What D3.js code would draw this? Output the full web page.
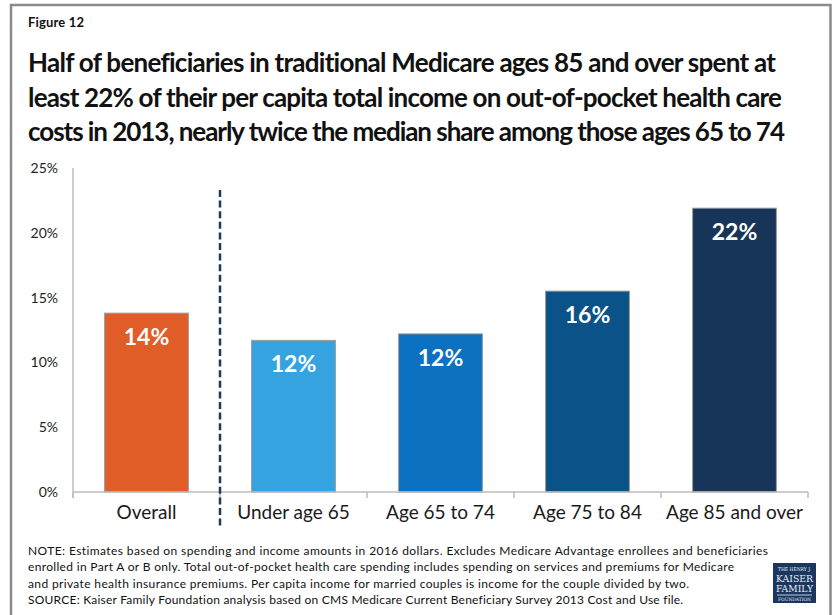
<!DOCTYPE html>
<html>
<head>
<meta charset="utf-8">
<script src="https://cdn.jsdelivr.net/npm/d3@7"></script>
<style>
  html, body { margin: 0; padding: 0; background: #fff; }
  svg { display: block; }
</style>
</head>
<body>
<svg id="chart" width="833" height="615"></svg>
<script>
// Median share of per capita income spent out of pocket on health care, 2013
const categories = ["Overall", "Under age 65", "Age 65 to 74", "Age 75 to 84", "Age 85 and over"];
const values = [13.8, 11.7, 12.2, 15.5, 21.9];
const valueLabels = ["14%", "12%", "12%", "16%", "22%"];
const barColors = ["#e05d27", "#35a3e0", "#0b71c0", "#0a5288", "#163558"];
const yTicks = [0, 5, 10, 15, 20, 25];

const figureLabel = "Figure 12";
const titleLines = [
  "Half of beneficiaries in traditional Medicare ages 85 and over spent at",
  "least 22% of their per capita total income on out-of-pocket health care",
  "costs in 2013, nearly twice the median share among those ages 65 to 74"
];
const noteLines = [
  "NOTE: Estimates based on spending and income amounts in 2016 dollars. Excludes Medicare Advantage enrollees and beneficiaries",
  "enrolled in Part A or B only. Total out-of-pocket health care spending includes spending on services and premiums for Medicare",
  "and private health insurance premiums. Per capita income for married couples is income for the couple divided by two.",
  "SOURCE: Kaiser Family Foundation analysis based on CMS Medicare Current Beneficiary Survey 2013 Cost and Use file."
];

const svg = d3.select("#chart");
const font = "Lato, 'Open Sans', sans-serif";

// Stretch or tighten a line through letter-spacing so it spans the given width
function fitWidth(sel, widthOf) {
  sel.each(function (d, i) {
    const node = this;
    const natural = node.getComputedTextLength();
    const n = Math.max(1, node.textContent.length - 1);
    const ls = (widthOf(d, i) - natural) / n;
    d3.select(node).attr("letter-spacing", ls.toFixed(3));
  });
}

// Frame around the figure
svg.append("path")
  .attr("d", "M11,616 V5 H830.5 V616")
  .attr("fill", "none")
  .attr("stroke", "#8a8a8a")
  .attr("stroke-width", 2.5);

// Heading
svg.append("text")
  .attr("x", 28).attr("y", 27)
  .attr("font-family", font).attr("font-weight", 700)
  .attr("font-size", 13).attr("fill", "#111")
  .text(figureLabel)
  .call(fitWidth, () => 56);

const titleWidths = [748, 754, 757];
svg.append("g").selectAll("text")
  .data(titleLines)
  .join("text")
  .attr("x", 28)
  .attr("y", (d, i) => 72 + i * 34.5)
  .attr("font-family", font).attr("font-weight", 700)
  .attr("font-size", 26).attr("fill", "#111")
  .text(d => d)
  .call(fitWidth, (d, i) => titleWidths[i]);

// Scales
const x = d3.scaleBand()
  .domain(categories)
  .range([73, 808])
  .paddingInner(0.43)
  .paddingOuter(0.215);

const y = d3.scaleLinear().domain([0, 25]).range([492, 168]);

const axisColor = "#bdbdbd";

// Y axis
const yAxis = svg.append("g")
  .attr("transform", "translate(73,0)")
  .call(d3.axisLeft(y).tickValues(yTicks).tickFormat(d => d + "%").tickSize(0).tickPadding(15));
yAxis.select(".domain").remove();
yAxis.selectAll("text")
  .attr("font-family", font).attr("font-size", 14).attr("fill", "#222");
svg.append("line")
  .attr("x1", 73).attr("x2", 73)
  .attr("y1", y(25)).attr("y2", y(0) + 6)
  .attr("stroke", axisColor).attr("stroke-width", 1.5);

// Bars
svg.append("g").selectAll("rect")
  .data(values)
  .join("rect")
  .attr("x", (d, i) => x(categories[i]))
  .attr("width", x.bandwidth())
  .attr("y", d => y(d))
  .attr("height", d => y(0) - y(d))
  .attr("fill", (d, i) => barColors[i])
  .attr("stroke", "#9a9a9a")
  .attr("stroke-width", 1);

// Baseline and category boundary ticks
svg.append("line")
  .attr("x1", 73).attr("x2", 808)
  .attr("y1", y(0)).attr("y2", y(0))
  .attr("stroke", axisColor).attr("stroke-width", 1.5);
const step = x.step();
svg.append("g").selectAll("line")
  .data(d3.range(categories.length + 1))
  .join("line")
  .attr("x1", i => 73 + i * step).attr("x2", i => 73 + i * step)
  .attr("y1", y(0)).attr("y2", y(0) + 6)
  .attr("stroke", axisColor).attr("stroke-width", 1.5);

// Category labels
svg.append("g").selectAll("text")
  .data(categories)
  .join("text")
  .attr("x", d => x(d) + x.bandwidth() / 2)
  .attr("y", 519)
  .attr("text-anchor", "middle")
  .attr("font-family", font).attr("font-size", 19).attr("fill", "#1a1a1a")
  .text(d => d);

// Value labels inside bars
svg.append("g").selectAll("text")
  .data(values)
  .join("text")
  .attr("x", (d, i) => x(categories[i]) + x.bandwidth() / 2)
  .attr("y", d => y(d) + 32)
  .attr("text-anchor", "middle")
  .attr("font-family", font).attr("font-weight", 700)
  .attr("font-size", 23).attr("fill", "#fff")
  .text((d, i) => valueLabels[i]);

// Divider between the overall bar and the age groups
svg.append("line")
  .attr("x1", 73 + step).attr("x2", 73 + step)
  .attr("y1", 190).attr("y2", 526)
  .attr("stroke", "#1b3a5c").attr("stroke-width", 2.5)
  .attr("stroke-dasharray", "7,3.6");

// Notes
const noteWidths = [740, 706, 661, 655];
svg.append("g").selectAll("text")
  .data(noteLines)
  .join("text")
  .attr("x", 28)
  .attr("y", (d, i) => 555 + i * 16.3)
  .attr("font-family", font).attr("font-size", 12).attr("fill", "#111")
  .text(d => d)
  .call(fitWidth, (d, i) => noteWidths[i]);

// Foundation logo
const logo = svg.append("g").attr("transform", "translate(773,563)");
logo.append("rect").attr("width", 43).attr("height", 40).attr("fill", "#1b3760");
const logoText = [
  { t: "THE HENRY J.", y: 8, s: 5, w: 33 },
  { t: "KAISER", y: 19, s: 10, w: 37 },
  { t: "FAMILY", y: 29, s: 10, w: 37 },
  { t: "FOUNDATION", y: 37.5, s: 4.5, w: 33 }
];
logo.selectAll("text")
  .data(logoText)
  .join("text")
  .attr("x", 21.5).attr("y", d => d.y)
  .attr("text-anchor", "middle")
  .attr("font-family", "'DejaVu Serif', serif")
  .attr("font-size", d => d.s).attr("fill", "#e8eef7")
  .attr("textLength", d => d.w).attr("lengthAdjust", "spacingAndGlyphs")
  .text(d => d.t);
logo.append("line")
  .attr("x1", 4).attr("x2", 39).attr("y1", 32).attr("y2", 32)
  .attr("stroke", "#e8eef7").attr("stroke-width", 0.8);
</script>
</body>
</html>
